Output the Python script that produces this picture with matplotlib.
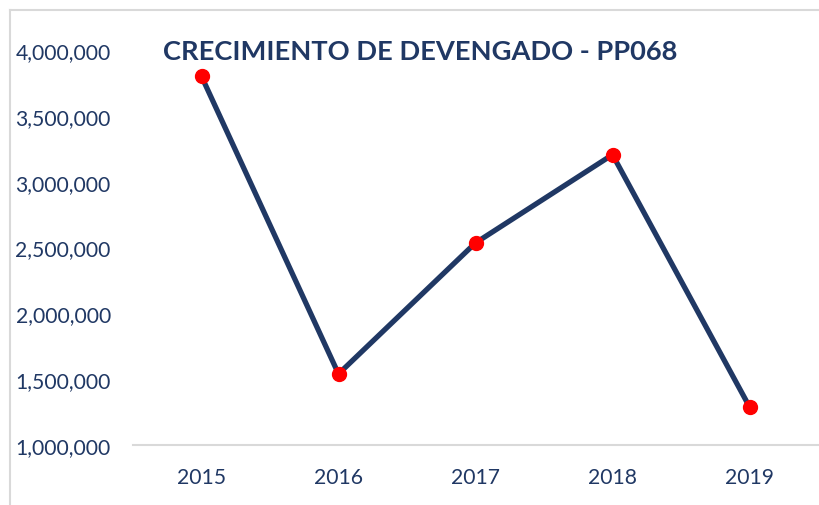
import matplotlib.pyplot as plt
from matplotlib.ticker import FuncFormatter
from matplotlib.lines import Line2D

# Datos
anios = ['2015', '2016', '2017', '2018', '2019']
devengado = [3800000, 1540000, 2535000, 3205000, 1290000]
marcas_y = [1000000, 1500000, 2000000, 2500000, 3000000, 3500000, 4000000]

azul = '#203864'
plt.rcParams['font.family'] = ['Lato', 'DejaVu Sans']

fig = plt.figure(figsize=(8.19, 5.06), dpi=100)
ax = fig.add_axes([133 / 819, 1 - 446 / 506, 685 / 819, 395 / 506])

x = range(len(anios))
ax.plot(x, devengado, color=azul, linewidth=3.8, marker='o', markersize=10,
        markerfacecolor='#FF0000', markeredgecolor='#FF0000', zorder=3)

ax.set_xlim(-0.5, len(anios) - 0.5)
ax.set_ylim(1000000, 4000000)
ax.set_xticks(list(x))
ax.set_xticklabels(anios)
ax.set_yticks(marcas_y)
ax.yaxis.set_major_formatter(FuncFormatter(lambda v, p: f'{int(v):,}'))
ax.tick_params(axis='both', length=0, labelsize=15.2, labelcolor=azul)
ax.tick_params(axis='y', pad=16)
ax.tick_params(axis='x', pad=16)

for s in ['top', 'right', 'left']:
    ax.spines[s].set_visible(False)
ax.spines['bottom'].set_color('#D9D9D9')
ax.spines['bottom'].set_linewidth(1.5)
ax.set_clip_on(False)

fig.text(163 / 819, 1 - 52 / 506, 'CRECIMIENTO DE DEVENGADO - PP068',
         fontsize=19.6, fontweight='bold', color=azul, va='center', ha='left')

# borde del gráfico
fig.add_artist(Line2D([10 / 819, 10 / 819], [0, 1 - 11 / 506], color='#D9D9D9', linewidth=1.5))
fig.add_artist(Line2D([10 / 819, 1], [1 - 11 / 506, 1 - 11 / 506], color='#D9D9D9', linewidth=1.5))

fig.savefig('out.png', dpi=100)
